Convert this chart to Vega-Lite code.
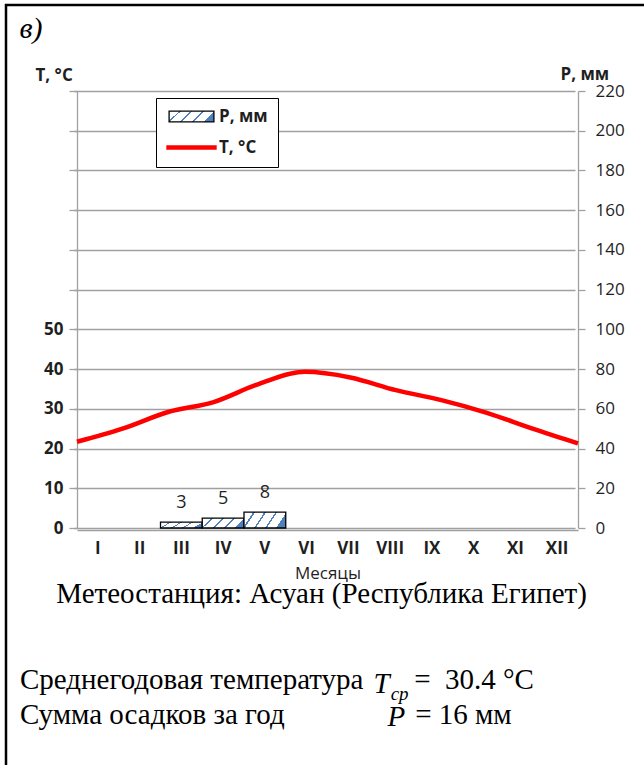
{
  "$schema": "https://vega.github.io/schema/vega-lite/v6.json",
  "width": 640,
  "height": 762,
  "padding": {"left": 6, "top": 5, "right": -2, "bottom": -2},
  "autosize": {"type": "none"},
  "background": "white",
  "view": {"stroke": "black", "strokeWidth": 2.5},
  "title": {
    "text": "\u200b\u00a0\u00a0\u00a0\u00a0\u00a0Метеостанция: Асуан (Республика Египет)",
    "subtitle": [
      "Среднегодовая температура\u00a0\u00a0\u00a0\u00a0\u00a0\u00a0\u00a0=\u00a0\u00a030.4 °C",
      "Сумма осадков за год\u00a0\u00a0\u00a0\u00a0\u00a0\u00a0\u00a0\u00a0\u00a0\u00a0\u00a0\u00a0\u00a0\u00a0\u00a0\u00a0\u00a0\u00a0= 16 мм"
    ],
    "orient": "bottom",
    "anchor": "start",
    "frame": "group",
    "offset": -187,
    "dx": 14,
    "font": "Liberation Serif",
    "fontSize": 29,
    "fontWeight": "normal",
    "color": "black",
    "subtitleFont": "Liberation Serif",
    "subtitleFontSize": 29,
    "subtitleColor": "black",
    "subtitleLineHeight": 35,
    "subtitlePadding": 57
  },
  "data": {
    "values": [
      {"month": "I", "P": 0, "T": 21.7},
      {"month": "II", "P": 0, "T": 25.0},
      {"month": "III", "P": 3, "T": 29.2},
      {"month": "IV", "P": 5, "T": 31.7},
      {"month": "V", "P": 8, "T": 36.3},
      {"month": "VI", "P": 0, "T": 39.3},
      {"month": "VII", "P": 0, "T": 37.9},
      {"month": "VIII", "P": 0, "T": 34.7},
      {"month": "IX", "P": 0, "T": 32.2},
      {"month": "X", "P": 0, "T": 29.0},
      {"month": "XI", "P": 0, "T": 25.0},
      {"month": "XII", "P": 0, "T": 21.3}
    ]
  },
  "config": {
    "axis": {
      "labelFont": "Open Sans",
      "titleFont": "Open Sans",
      "labelFontSize": 17,
      "titleFontSize": 17,
      "labelColor": "#1f1f1f",
      "titleColor": "#1f1f1f",
      "domainColor": "#a0a0a0",
      "tickColor": "#a0a0a0",
      "gridColor": "#a0a0a0",
      "domainWidth": 1.3,
      "tickWidth": 1.3,
      "gridWidth": 1.3
    },
    "legend": {"labelFont": "Open Sans"}
  },
  "resolve": {"scale": {"x": "independent", "y": "independent"}},
  "layer": [
    {
      "transform": [{"filter": "datum.P > 0"}],
      "mark": {
        "type": "bar",
        "filled": false,
        "strokeWidth": 1.3,
        "fill": {
          "gradient": "linear",
          "x1": 0, "y1": 0, "x2": 1, "y2": 0.25,
          "stops": [
            {"offset": 0, "color": "white"}, {"offset": 0.21, "color": "white"},
            {"offset": 0.21, "color": "#4f81bd"}, {"offset": 0.25, "color": "#4f81bd"},
            {"offset": 0.25, "color": "white"}, {"offset": 0.46, "color": "white"},
            {"offset": 0.46, "color": "#4f81bd"}, {"offset": 0.5, "color": "#4f81bd"},
            {"offset": 0.5, "color": "white"}, {"offset": 0.71, "color": "white"},
            {"offset": 0.71, "color": "#4f81bd"}, {"offset": 0.75, "color": "#4f81bd"},
            {"offset": 0.75, "color": "white"}, {"offset": 0.96, "color": "white"},
            {"offset": 0.96, "color": "#4f81bd"}, {"offset": 1, "color": "#4f81bd"}
          ]
        }
      },
      "encoding": {
        "x": {
          "field": "month",
          "type": "ordinal",
          "scale": {
            "domain": ["I", "II", "III", "IV", "V", "VI", "VII", "VIII", "IX", "X", "XI", "XII"],
            "range": [71, 572],
            "paddingInner": 0,
            "paddingOuter": 0
          },
          "axis": {
            "orient": "bottom",
            "offset": -237,
            "labelAngle": 0,
            "ticks": false,
            "grid": false,
            "labelFontWeight": "bold",
            "labelPadding": 10,
            "title": "Месяцы",
            "titleFontWeight": "normal",
            "titlePadding": 9
          }
        },
        "y": {
          "field": "P",
          "type": "quantitative",
          "scale": {"domain": [0, 220], "range": [523, 86], "nice": false, "zero": true},
          "axis": {
            "orient": "right",
            "offset": -68,
            "values": [0, 20, 40, 60, 80, 100, 120, 140, 160, 180, 200, 220],
            "grid": true,
            "tickSize": 7,
            "labelPadding": 10,
            "title": "P, мм",
            "titleFontWeight": "bold",
            "titleAngle": 0,
            "titleAlign": "left",
            "titleBaseline": "middle",
            "titleX": -18,
            "titleY": 69
          }
        },
        "color": {
          "datum": "P, мм",
          "scale": {"domain": ["P, мм", "T, °C"], "range": ["#000000", "#ff0000"]},
          "legend": {
            "orient": "none",
            "legendX": 150,
            "legendY": 93,
            "title": null,
            "padding": 10,
            "fillColor": "white",
            "strokeColor": "black",
            "symbolSize": 784,
            "symbolOffset": 17,
            "symbolType": {"expr": "datum.value === 'P, мм' ? 'M-1.6,-0.39H1.6V0.39H-1.6Z' : 'M-1.8,0H1.8'"},
            "symbolStrokeWidth": {"expr": "datum.value === 'P, мм' ? 1.3 : 4.5"},
            "labelOffset": 19,
            "rowPadding": 13,
            "labelFontSize": 17,
            "labelFontWeight": "bold",
            "labelColor": "#1f1f1f"
          }
        }
      }
    },
    {
      "transform": [{"filter": "datum.P > 0"}],
      "mark": {"type": "text", "baseline": "alphabetic", "dy": -14, "font": "Open Sans", "fontSize": 18, "color": "#1f1f1f"},
      "encoding": {
        "x": {
          "field": "month",
          "type": "ordinal",
          "scale": {
            "domain": ["I", "II", "III", "IV", "V", "VI", "VII", "VIII", "IX", "X", "XI", "XII"],
            "range": [71, 572],
            "paddingInner": 0,
            "paddingOuter": 0
          },
          "axis": {
            "orient": "bottom",
            "offset": -237,
            "domain": false,
            "ticks": false,
            "tickSize": 0,
            "grid": false,
            "labelAngle": 0,
            "labelOverlap": false,
            "labelExpr": "datum.value === 'VIII' ? 'ср' : ''",
            "labelFont": "Liberation Serif",
            "labelFontStyle": "italic",
            "labelFontSize": 19,
            "labelColor": "black",
            "labelAlign": "left",
            "labelBaseline": "alphabetic",
            "labelOffset": 0,
            "labelPadding": 169,
            "title": "T",
            "titleFont": "Liberation Serif",
            "titleFontStyle": "italic",
            "titleFontWeight": "normal",
            "titleFontSize": 29,
            "titleColor": "black",
            "titleAngle": 0,
            "titleAlign": "left",
            "titleBaseline": "alphabetic",
            "titleX": 367,
            "titleY": 162
          }
        },
        "y": {
          "field": "P",
          "type": "quantitative",
          "scale": {"domain": [0, 220], "range": [523, 86], "nice": false, "zero": true},
          "axis": {
            "orient": "left",
            "offset": 0,
            "domain": false,
            "ticks": false,
            "labels": false,
            "grid": false,
            "title": "P",
            "titleFont": "Liberation Serif",
            "titleFontStyle": "italic",
            "titleFontWeight": "normal",
            "titleFontSize": 29,
            "titleColor": "black",
            "titleAngle": 0,
            "titleAlign": "left",
            "titleBaseline": "alphabetic",
            "titleX": 381,
            "titleY": 720
          }
        },
        "text": {"field": "P", "type": "quantitative"}
      }
    },
    {
      "mark": {"type": "line", "interpolate": "monotone", "strokeWidth": 4.5},
      "encoding": {
        "x": {
          "field": "month",
          "type": "ordinal",
          "sort": ["I", "II", "III", "IV", "V", "VI", "VII", "VIII", "IX", "X", "XI", "XII"],
          "scale": {"type": "point", "range": [71, 572], "padding": 0},
          "axis": {
            "orient": "top",
            "offset": 0,
            "domain": false,
            "ticks": false,
            "labels": false,
            "grid": false,
            "title": "в)",
            "titleFont": "Liberation Serif",
            "titleFontStyle": "italic",
            "titleFontWeight": "normal",
            "titleFontSize": 30,
            "titleColor": "black",
            "titleAlign": "left",
            "titleBaseline": "alphabetic",
            "titleAngle": 0,
            "titleX": 13,
            "titleY": 32
          }
        },
        "y": {
          "field": "T",
          "type": "quantitative",
          "scale": {"domain": [0, 110], "range": [523, 86], "nice": false},
          "axis": {
            "orient": "left",
            "offset": -71,
            "values": [0, 10, 20, 30, 40, 50, 60, 70, 80, 90, 100, 110],
            "labelExpr": "datum.value <= 50 ? datum.label : ''",
            "labelFontWeight": "bold",
            "grid": false,
            "tickSize": 8,
            "labelPadding": 6,
            "title": "T, °C",
            "titleFontWeight": "bold",
            "titleAngle": 0,
            "titleAlign": "left",
            "titleBaseline": "middle",
            "titleX": -42,
            "titleY": 70
          }
        },
        "color": {"datum": "T, °C"}
      }
    }
  ]
}
